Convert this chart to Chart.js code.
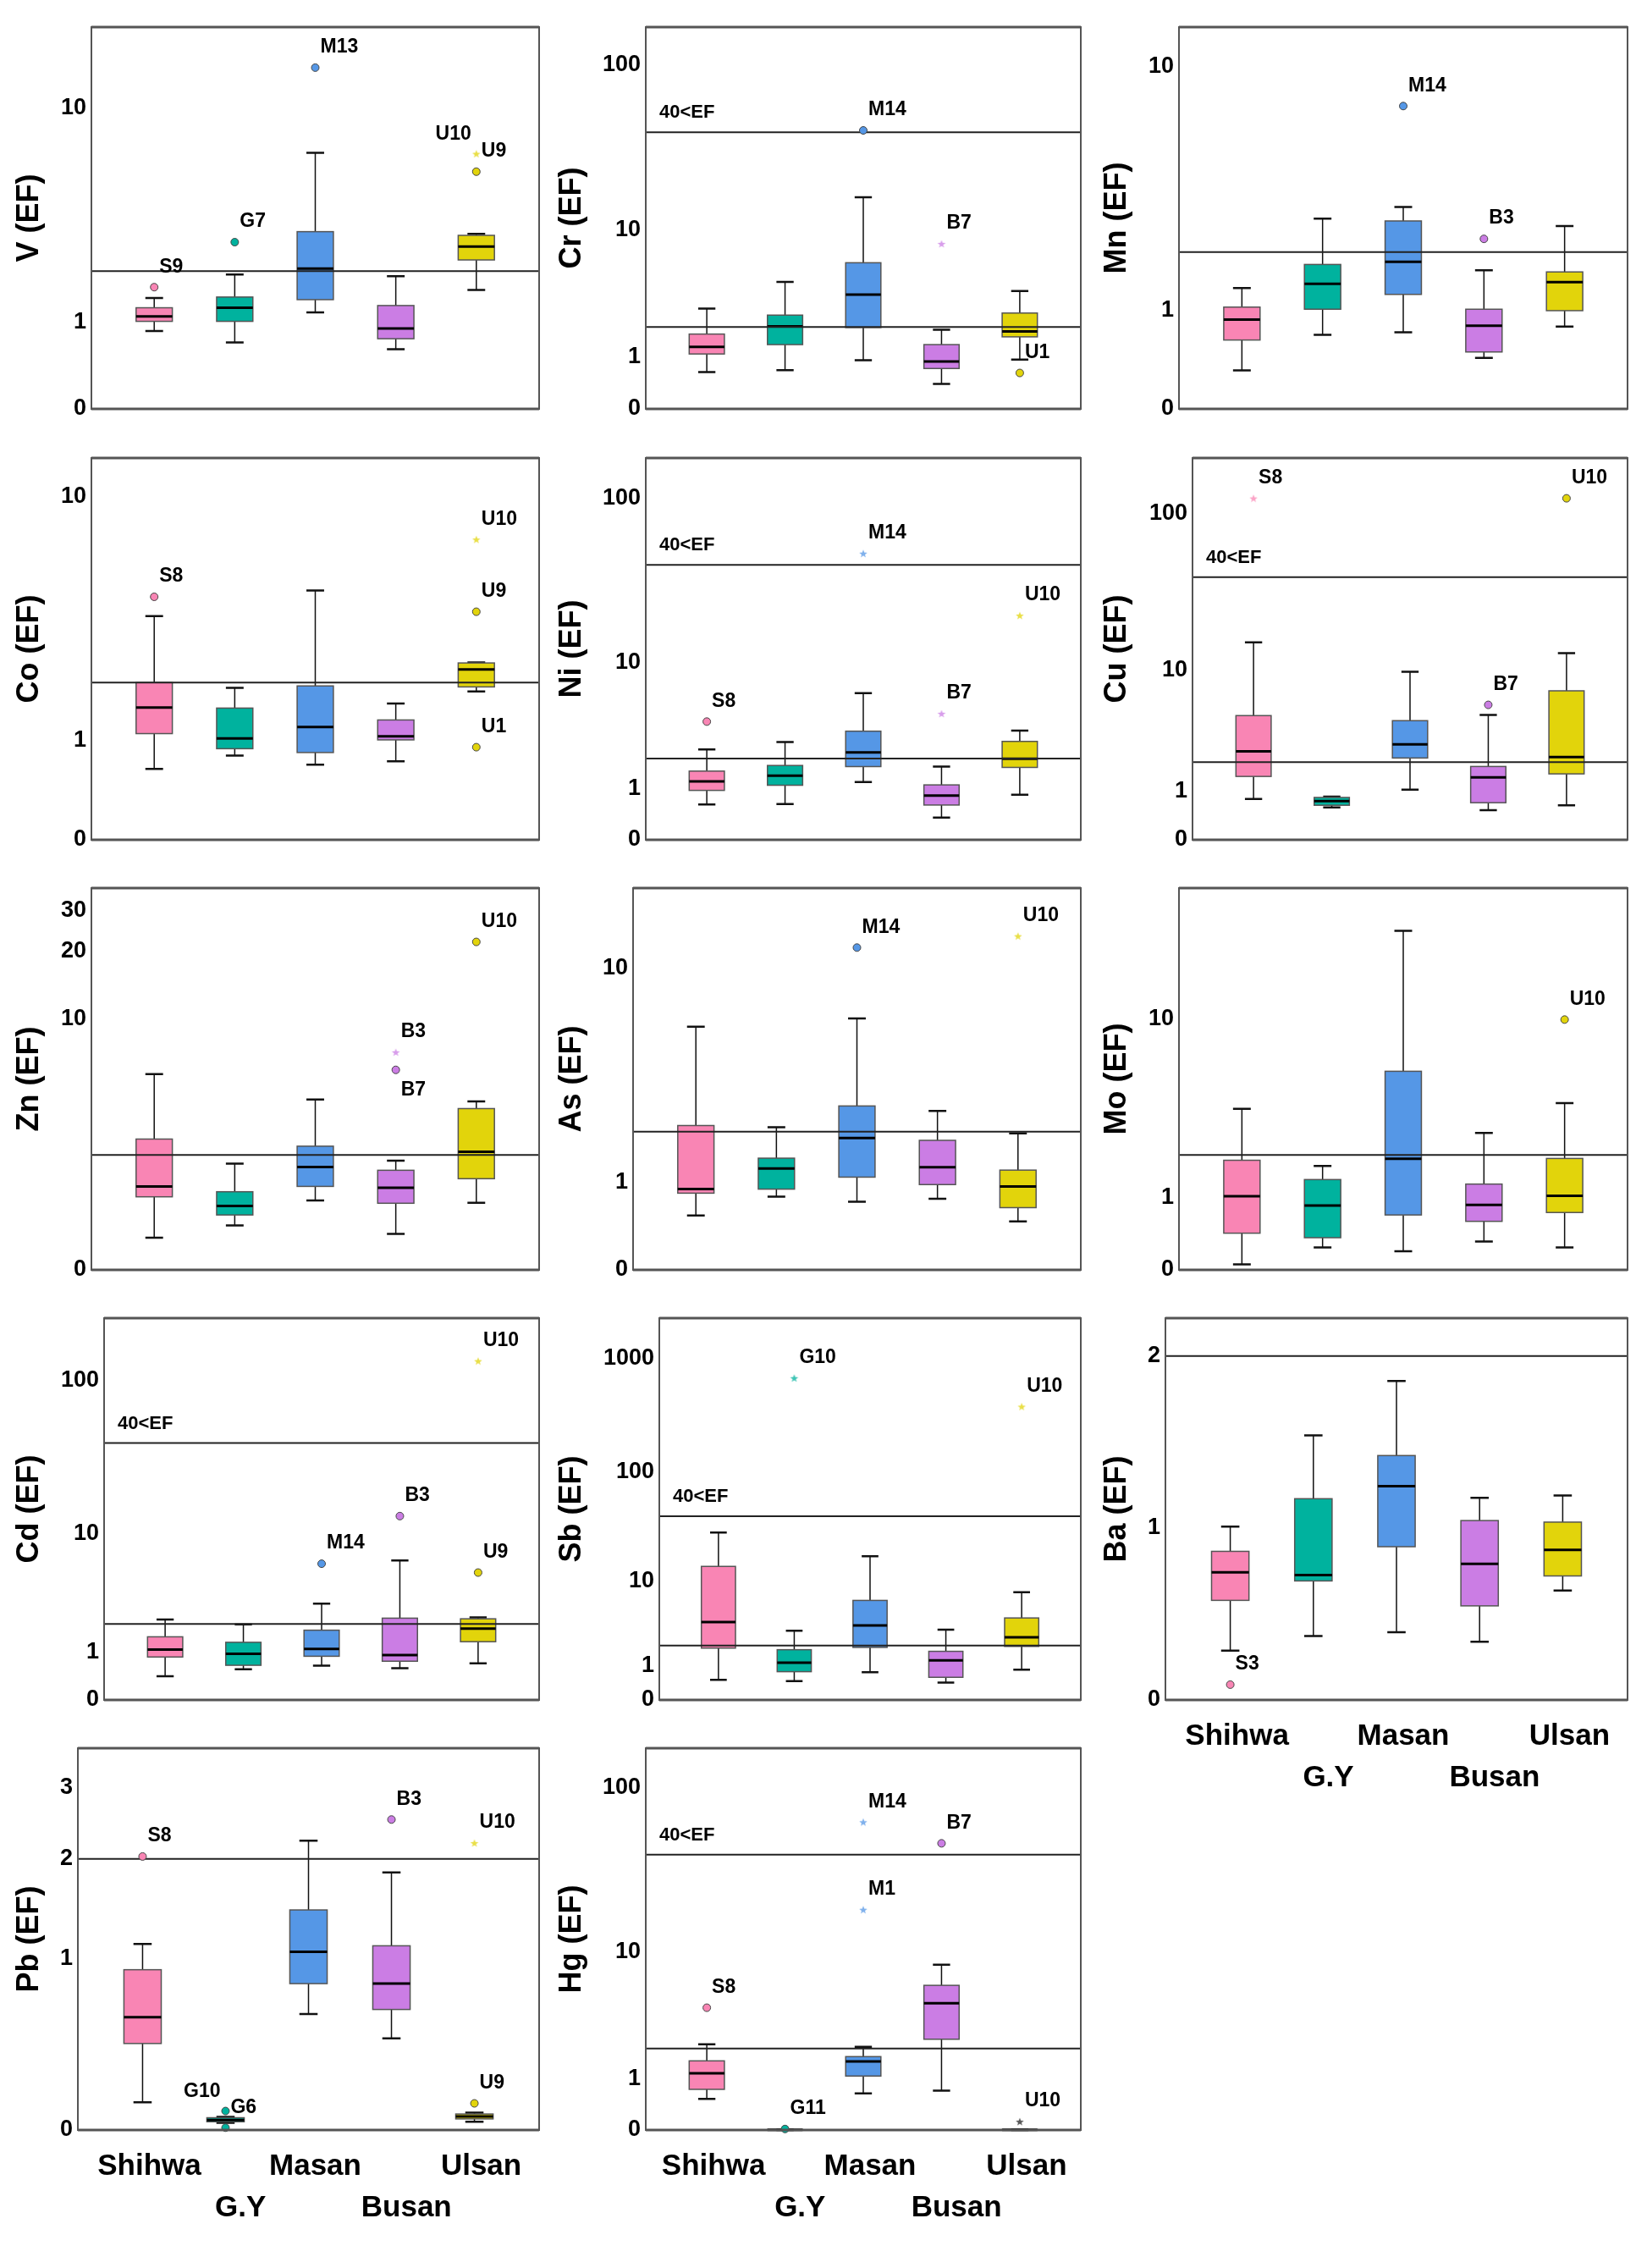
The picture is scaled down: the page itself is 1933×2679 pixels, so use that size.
<!DOCTYPE html>
<html>
<head>
<meta charset="utf-8">
<script src="https://cdn.jsdelivr.net/npm/chart.js@4"></script>
<style>
  html, body { margin: 0; padding: 0; background: #fff; }
  #wrap { position: relative; width: 1933px; height: 2679px; overflow: hidden; background: #fff; }
  #wrap canvas.panel { position: absolute; }
</style>
</head>
<body>
<div id="wrap"></div>
<script>
const groups = ['Shihwa', 'G.Y', 'Masan', 'Busan', 'Ulsan'];

// boxes per site: [lower whisker, Q1, median, Q3, upper whisker]
// outliers: [site index, value, label, 'o' circle or '*' star, label side]
const vBox = [[0.86, 1.01, 1.09, 1.24, 1.42], [0.70, 1.01, 1.24, 1.44, 1.92], [1.16, 1.39, 2.06, 3.11, 6.70], [0.61, 0.75, 0.90, 1.28, 1.88], [1.58, 2.28, 2.65, 2.99, 3.04]];
const vOut = [[0, 1.64, 'S9', 'o'], [1, 2.78, 'G7', 'o'], [2, 14.2, 'M13', 'o'], [4, 6.65, 'U10', '*', 'l'], [4, 5.63, 'U9', 'o']];
const vTicks = [0, 1, 10];

const crBox = [[0.64, 1.09, 1.30, 1.73, 2.84], [0.68, 1.37, 2.03, 2.52, 4.50], [0.92, 1.98, 3.64, 6.11, 16.1], [0.40, 0.72, 0.89, 1.37, 1.89], [0.94, 1.63, 1.83, 2.62, 3.87]];
const crOut = [[2, 41, 'M14', 'o'], [3, 8.17, 'B7', '*'], [4, 0.62, 'U1', 'o']];
const crTicks = [0, 1, 10, 100];

const mnBox = [[0.31, 0.62, 0.87, 1.04, 1.33], [0.68, 1.01, 1.40, 1.75, 2.79], [0.71, 1.23, 1.80, 2.73, 3.11], [0.43, 0.49, 0.79, 1.01, 1.64], [0.78, 0.99, 1.43, 1.61, 2.60]];
const mnOut = [[2, 7.34, 'M14', 'o'], [3, 2.29, 'B3', 'o']];
const mnTicks = [0, 1, 10];

const coBox = [[0.64, 1.10, 1.52, 2.0, 3.77], [0.80, 0.89, 1.03, 1.51, 1.89], [0.69, 0.84, 1.20, 1.93, 4.71], [0.73, 1.01, 1.06, 1.31, 1.59], [1.82, 1.91, 2.29, 2.44, 2.45]];
const coOut = [[0, 4.46, 'S8', 'o'], [4, 7.15, 'U10', '*'], [4, 3.92, 'U9', 'o'], [4, 0.91, 'U1', 'o']];
const coTicks = [0, 1, 10];

const niBox = [[0.61, 0.95, 1.20, 1.53, 2.39], [0.62, 1.09, 1.38, 1.73, 2.75], [1.18, 1.69, 2.26, 3.34, 6.26], [0.35, 0.60, 0.82, 1.10, 1.69], [0.84, 1.66, 1.99, 2.78, 3.37]];
const niOut = [[0, 3.94, 'S8', 'o'], [2, 46.9, 'M14', '*'], [3, 4.50, 'B7', '*'], [4, 19.7, 'U10', '*']];
const niTicks = [0, 1, 10, 100];

const cuBox = [[0.78, 1.45, 2.49, 4.79, 15.3], [0.58, 0.63, 0.73, 0.82, 0.84], [1.03, 2.18, 2.85, 4.39, 9.75], [0.52, 0.69, 1.42, 1.82, 4.84], [0.63, 1.54, 2.22, 7.22, 13.0]];
const cuOut = [[0, 124, 'S8', '*'], [3, 5.74, 'B7', 'o'], [4, 124, 'U10', 'o']];
const cuTicks = [0, 1, 10, 100];

const znBox = [[0.36, 1.01, 1.22, 2.49, 5.49], [0.53, 0.69, 0.84, 1.11, 1.76], [0.94, 1.22, 1.67, 2.26, 4.09], [0.41, 0.89, 1.19, 1.59, 1.84], [0.90, 1.39, 2.09, 3.67, 4.0]];
const znOut = [[3, 7.0, 'B3', '*'], [3, 5.76, 'B7', 'o', 'b'], [4, 21.96, 'U10', 'o']];
const znTicks = [0, 10, 20, 30];

const asBox = [[0.54, 0.84, 0.90, 2.15, 5.91], [0.79, 0.90, 1.24, 1.43, 2.11], [0.72, 1.09, 1.85, 2.68, 6.38], [0.76, 0.97, 1.26, 1.80, 2.54], [0.47, 0.64, 0.94, 1.21, 1.96]];
const asOut = [[2, 11.96, 'M14', 'o'], [4, 13.2, 'U10', '*']];
const asTicks = [0, 1, 10];

const moBox = [[0.055, 0.42, 1.02, 1.85, 3.66], [0.24, 0.36, 0.85, 1.37, 1.70], [0.195, 0.69, 1.89, 5.67, 24.5], [0.31, 0.59, 0.86, 1.27, 2.70], [0.24, 0.73, 1.03, 1.90, 3.92]];
const moOut = [[4, 9.93, 'U10', 'o']];
const moTicks = [0, 1, 10];

const cdBox = [[0.41, 0.86, 1.07, 1.49, 2.20], [0.56, 0.65, 0.95, 1.30, 1.98], [0.64, 0.88, 1.09, 1.74, 3.02], [0.58, 0.75, 0.91, 2.26, 6.50], [0.70, 1.32, 1.80, 2.23, 2.30]];
const cdOut = [[2, 6.16, 'M14', 'o'], [3, 13.25, 'B3', 'o'], [4, 133, 'U10', '*'], [4, 5.3, 'U9', 'o']];
const cdTicks = [0, 1, 10, 100];

const sbBox = [[0.50, 1.85, 3.82, 13.85, 28.5], [0.46, 0.77, 1.12, 1.76, 3.04], [0.75, 1.89, 3.51, 6.47, 17.2], [0.42, 0.58, 1.22, 1.67, 3.14], [0.84, 1.95, 2.54, 4.24, 7.8]];
const sbOut = [[1, 666, 'G10', '*'], [4, 374, 'U10', '*']];
const sbTicks = [0, 1, 10, 100, 1000];

const baBox = [[0.287, 0.579, 0.742, 0.864, 1.008], [0.372, 0.692, 0.726, 1.170, 1.538], [0.394, 0.891, 1.243, 1.421, 1.855], [0.338, 0.547, 0.791, 1.043, 1.175], [0.636, 0.721, 0.872, 1.034, 1.189]];
const baOut = [[0, 0.089, 'S3', 'o']];
const baTicks = [0, 1, 2];

const pbBox = [[0.119, 0.42, 0.58, 0.915, 1.125], [0.030, 0.034, 0.041, 0.051, 0.055], [0.60, 0.81, 1.06, 1.44, 2.23], [0.45, 0.63, 0.81, 1.11, 1.84], [0.034, 0.046, 0.056, 0.067, 0.073]];
const pbOut = [[0, 2.03, 'S8', 'o'], [1, 0.080, 'G10', 'o', 'l'], [1, 0.0095, 'G6', 'o'], [3, 2.52, 'B3', 'o'], [4, 2.20, 'U10', '*'], [4, 0.114, 'U9', 'o']];
const pbTicks = [0, 1, 2, 3];

const hgBox = [[0.52, 0.73, 1.15, 1.54, 2.18], [0, 0.002, 0.004, 0.006, 0.008], [0.64, 1.07, 1.52, 1.69, 2.07], [0.70, 2.40, 4.53, 6.03, 8.29], [0, 0.002, 0.004, 0.006, 0.008]];
const hgOut = [[0, 4.20, 'S8', 'o'], [1, 0.014, 'G11', 'o'], [2, 62.5, 'M14', '*'], [2, 18.5, 'M1', '*'], [3, 46.7, 'B7', 'o'], [4, 0.12, 'U10', '*']];
const hgTicks = [0, 1, 10, 100];

const lowLine = 2;
const highLine = 40;

const colors = ['#F985B4', '#00B29E', '#5597E6', '#CB7DE4', '#E2D40B'];
const font = "'Liberation Sans', Arial, sans-serif";
Chart.defaults.font.family = font;

// layout of the 14 panels (SPSS style grid)
const panels = [
  { title: 'V (EF)', box: vBox, out: vOut, ticks: vTicks, max: 20, row: 0, col: 0, left: 108 },
  { title: 'Cr (EF)', box: crBox, out: crOut, ticks: crTicks, max: 167, high: true, row: 0, col: 1, left: 763 },
  { title: 'Mn (EF)', box: mnBox, out: mnOut, ticks: mnTicks, max: 13.5, row: 0, col: 2, left: 1393 },
  { title: 'Co (EF)', box: coBox, out: coOut, ticks: coTicks, max: 13.4, row: 1, col: 0, left: 108 },
  { title: 'Ni (EF)', box: niBox, out: niOut, ticks: niTicks, max: 173, high: true, row: 1, col: 1, left: 763 },
  { title: 'Cu (EF)', box: cuBox, out: cuOut, ticks: cuTicks, max: 220, high: true, row: 1, col: 2, left: 1409 },
  { title: 'Zn (EF)', box: znBox, out: znOut, ticks: znTicks, max: 37.4, row: 2, col: 0, left: 108 },
  { title: 'As (EF)', box: asBox, out: asOut, ticks: asTicks, max: 19.8, row: 2, col: 1, left: 748 },
  { title: 'Mo (EF)', box: moBox, out: moOut, ticks: moTicks, max: 37.4, row: 2, col: 2, left: 1393 },
  { title: 'Cd (EF)', box: cdBox, out: cdOut, ticks: cdTicks, max: 248, high: true, row: 3, col: 0, left: 123 },
  { title: 'Sb (EF)', box: sbBox, out: sbOut, ticks: sbTicks, max: 2238, high: true, row: 3, col: 1, left: 779 },
  { title: 'Ba (EF)', box: baBox, out: baOut, ticks: baTicks, max: 2.22, linear: true, xlabels: true, row: 3, col: 2, left: 1377 },
  { title: 'Pb (EF)', box: pbBox, out: pbOut, ticks: pbTicks, max: 3.7, xlabels: true, row: 4, col: 0, left: 92 },
  { title: 'Hg (EF)', box: hgBox, out: hgOut, ticks: hgTicks, max: 171, high: true, xlabels: true, darkStar: 'U10', row: 4, col: 1, left: 763 }
];

const colX = [13, 654, 1298];
const colRight = [637, 1277, 1923];
const rowTop = [32, 541, 1049, 1557, 2065];
const plotH = 451;
const topPad = 30;
const rightPad = 8;

function tf(p, v) {
  return p.linear ? v : Math.log10(v + 1);
}

// small five point star used as point style
function makeStar(color) {
  const c = document.createElement('canvas');
  c.width = 12;
  c.height = 12;
  const g = c.getContext('2d');
  g.beginPath();
  for (let k = 0; k < 10; k++) {
    const r = k % 2 ? 2.1 : 5;
    const ang = -Math.PI / 2 + k * Math.PI / 5;
    const px = 6 + r * Math.cos(ang);
    const py = 6.5 + r * Math.sin(ang);
    if (k === 0) g.moveTo(px, py); else g.lineTo(px, py);
  }
  g.closePath();
  g.globalAlpha = 0.75;
  g.fillStyle = color;
  g.fill();
  return c;
}
const starImgs = colors.map(makeStar);
const darkStarImg = makeStar('#222');

function boxPlugin(p) {
  return {
    id: 'boxes',
    beforeDatasetsDraw(chart) {
      const ctx = chart.ctx;
      const xs = chart.scales.x;
      const ys = chart.scales.y;
      const a = chart.chartArea;
      const py = v => ys.getPixelForValue(tf(p, v));
      ctx.save();
      p.box.forEach((b, i) => {
        const xc = xs.getPixelForValue(i);
        const bx0 = xs.getPixelForValue(i - 0.225);
        const bx1 = xs.getPixelForValue(i + 0.225);
        const cx0 = xs.getPixelForValue(i - 0.11);
        const cx1 = xs.getPixelForValue(i + 0.11);
        ctx.strokeStyle = '#111';
        ctx.lineWidth = 1.5;
        ctx.beginPath();
        ctx.moveTo(xc, py(b[0])); ctx.lineTo(xc, py(b[1]));
        ctx.moveTo(xc, py(b[3])); ctx.lineTo(xc, py(b[4]));
        ctx.stroke();
        ctx.lineWidth = 2.5;
        ctx.beginPath();
        ctx.moveTo(cx0, py(b[0])); ctx.lineTo(cx1, py(b[0]));
        ctx.moveTo(cx0, py(b[4])); ctx.lineTo(cx1, py(b[4]));
        ctx.stroke();
        const top = py(b[3]);
        const bot = py(b[1]);
        ctx.fillStyle = colors[i];
        ctx.fillRect(bx0, top, bx1 - bx0, bot - top);
        ctx.strokeStyle = '#555';
        ctx.lineWidth = 1.5;
        ctx.strokeRect(bx0, top, bx1 - bx0, bot - top);
        ctx.strokeStyle = '#000';
        ctx.lineWidth = 3;
        ctx.beginPath();
        ctx.moveTo(bx0, py(b[2])); ctx.lineTo(bx1, py(b[2]));
        ctx.stroke();
      });

      const lines = p.high ? [lowLine, highLine] : [lowLine];
      ctx.strokeStyle = '#222';
      ctx.lineWidth = 2;
      lines.forEach(v => {
        const y = py(v);
        ctx.beginPath();
        ctx.moveTo(a.left, y); ctx.lineTo(a.right, y);
        ctx.stroke();
      });
      if (p.high) {
        ctx.font = 'bold 22px ' + font;
        ctx.fillStyle = '#000';
        ctx.textAlign = 'left';
        ctx.textBaseline = 'middle';
        ctx.fillText('40<EF', a.left + 16, py(highLine) - 23);
      }
      ctx.restore();
    },
    afterDatasetsDraw(chart) {
      const ctx = chart.ctx;
      const xs = chart.scales.x;
      const ys = chart.scales.y;
      ctx.save();
      ctx.font = 'bold 23px ' + font;
      ctx.fillStyle = '#000';
      ctx.textBaseline = 'middle';
      p.out.forEach(o => {
        const x = xs.getPixelForValue(o[0]);
        const y = ys.getPixelForValue(tf(p, o[1]));
        const side = o[4] || 'r';
        if (side === 'l') {
          ctx.textAlign = 'right';
          ctx.fillText(o[2], x - 6, y - 23);
        } else if (side === 'b') {
          ctx.textAlign = 'left';
          ctx.fillText(o[2], x + 6, y + 24);
        } else {
          ctx.textAlign = 'left';
          ctx.fillText(o[2], x + 6, y - 24);
        }
      });
      ctx.restore();
    },
    afterDraw(chart) {
      const ctx = chart.ctx;
      const a = chart.chartArea;
      ctx.save();
      ctx.strokeStyle = '#555';
      ctx.lineWidth = 2;
      ctx.strokeRect(a.left, a.top, a.right - a.left, a.bottom - a.top);
      ctx.lineWidth = 3;
      ctx.beginPath();
      ctx.moveTo(a.left, a.top); ctx.lineTo(a.right, a.top);
      ctx.moveTo(a.left, a.bottom); ctx.lineTo(a.right, a.bottom);
      ctx.stroke();
      ctx.restore();
    }
  };
}

const wrap = document.getElementById('wrap');

panels.forEach(p => {
  const x0 = colX[p.col];
  const bottomPad = p.xlabels ? 125 : 30;
  const w = colRight[p.col] + rightPad - x0;
  const h = topPad + plotH + bottomPad;
  const canvas = document.createElement('canvas');
  canvas.className = 'panel';
  canvas.width = w;
  canvas.height = h;
  canvas.style.left = x0 + 'px';
  canvas.style.top = (rowTop[p.row] - topPad) + 'px';
  canvas.style.width = w + 'px';
  canvas.style.height = h + 'px';
  wrap.appendChild(canvas);

  const circles = p.out.filter(o => o[3] === 'o');
  const stars = p.out.filter(o => o[3] === '*');

  new Chart(canvas, {
    type: 'scatter',
    data: {
      datasets: [
        {
          data: circles.map(o => ({ x: o[0], y: tf(p, o[1]) })),
          pointStyle: 'circle',
          pointRadius: 4.5,
          pointBackgroundColor: circles.map(o => colors[o[0]]),
          pointBorderColor: '#444',
          pointBorderWidth: 1,
          clip: false
        },
        {
          data: stars.map(o => ({ x: o[0], y: tf(p, o[1]) })),
          pointStyle: stars.map(o => (o[2] === p.darkStar ? darkStarImg : starImgs[o[0]])),
          pointRadius: 6,
          clip: false
        }
      ]
    },
    options: {
      responsive: false,
      animation: false,
      devicePixelRatio: 1,
      layout: { padding: { top: topPad, right: rightPad, bottom: 0, left: 0 } },
      plugins: { legend: { display: false }, tooltip: { enabled: false } },
      scales: {
        x: {
          type: 'linear',
          min: -0.78,
          max: 4.78,
          grid: { display: false, drawTicks: false },
          border: { display: false },
          afterBuildTicks: s => { s.ticks = groups.map((g, i) => ({ value: i })); },
          afterFit: s => { s.height = bottomPad; },
          ticks: {
            display: !!p.xlabels,
            autoSkip: false,
            maxRotation: 0,
            padding: 19,
            labelOffset: 8,
            color: '#000',
            font: { size: 35, weight: 'bold', lineHeight: 1.4 },
            callback: (v, i) => (i % 2 === 1 ? ['', '  ' + groups[i]] : groups[i])
          }
        },
        y: {
          type: 'linear',
          min: 0,
          max: tf(p, p.max),
          grid: { display: false, drawTicks: false },
          border: { display: false },
          afterBuildTicks: s => { s.ticks = p.ticks.map(t => ({ value: tf(p, t) })); },
          afterFit: s => { s.width = p.left - x0; },
          title: {
            display: true,
            text: p.title,
            color: '#000',
            padding: 0,
            font: { size: 36, weight: 'bold' }
          },
          ticks: {
            autoSkip: false,
            padding: 6,
            color: '#000',
            font: { size: 27, weight: 'bold' },
            callback: (v, i) => String(p.ticks[i])
          }
        }
      }
    },
    plugins: [boxPlugin(p)]
  });
});
</script>
</body>
</html>
